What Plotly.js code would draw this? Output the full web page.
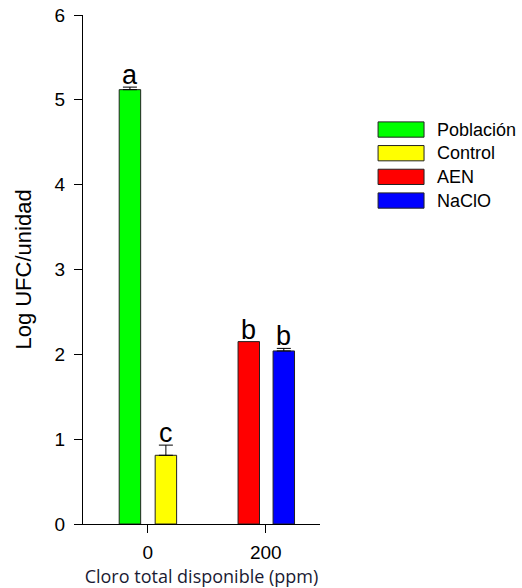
<!DOCTYPE html>
<html>
<head>
<meta charset="utf-8">
<script src="https://cdn.plot.ly/plotly-3.0.1.min.js"></script>
<style>html,body{margin:0;padding:0;background:#fff;}#chart{width:522px;height:588px;}</style>
</head>
<body>
<div id="chart"></div>
<script>
// Data
const categories = ["0", "200"];
const seriesNames = ["Población", "Control", "AEN", "NaClO"];
const seriesCategory = ["0", "0", "200", "200"];
const seriesValues = [5.12, 0.81, 2.15, 2.04];
const seriesErrors = [0.03, 0.12, 0.0, 0.03];
const seriesLetters = ["a", "c", "b", "b"];
const yTickVals = [0, 1, 2, 3, 4, 5, 6];

// Styles
const colors = ["#00ff00", "#ffff00", "#ff0000", "#0000ff"];
const offsets = [-0.243, 0.062, -0.235, 0.062];
const barWidth = 0.182;
const FONT = "Liberation Sans, Arial, sans-serif";

const traces = seriesNames.map((name, i) => ({
  type: "bar",
  name: name,
  x: [seriesCategory[i]],
  y: [seriesValues[i]],
  offset: offsets[i],
  width: barWidth,
  marker: { color: colors[i], line: { color: "#222", width: 1 } },
  error_y: {
    type: "data", symmetric: false,
    array: [seriesErrors[i]], arrayminus: [0],
    color: "#000", thickness: 1, width: 7,
    visible: seriesErrors[i] > 0
  },
  showlegend: false
}));

const annotations = seriesNames.map((name, i) => ({
  xref: "x", yref: "y",
  x: categories.indexOf(seriesCategory[i]) + offsets[i] + barWidth / 2,
  y: seriesValues[i] + seriesErrors[i],
  text: seriesLetters[i],
  showarrow: false,
  yanchor: "bottom",
  yshift: -5,
  font: { family: FONT, size: 27, color: "#000" }
}));

// custom legend with wide boxes
const legX0 = 1.245, legX1 = 1.439, legTextX = 1.487;
const legY0 = 0.775, legStep = 0.0465, legH = 0.03;
const shapes = [];
seriesNames.forEach((name, i) => {
  const yc = legY0 - i * legStep;
  shapes.push({
    type: "rect", xref: "paper", yref: "paper",
    x0: legX0, x1: legX1, y0: yc - legH / 2, y1: yc + legH / 2,
    fillcolor: colors[i], line: { color: "#222", width: 1 }
  });
  annotations.push({
    xref: "paper", yref: "paper", x: legTextX, y: yc,
    xanchor: "left", yanchor: "middle", showarrow: false,
    text: name, font: { family: FONT, size: 18, color: "#000" }
  });
});

const layout = {
  width: 522, height: 588,
  margin: { l: 83, r: 202, t: 15, b: 64 },
  paper_bgcolor: "#fff", plot_bgcolor: "#fff",
  barmode: "overlay",
  showlegend: false,
  xaxis: {
    type: "category",
    categoryarray: categories,
    range: [-0.55, 1.46],
    showline: true, linecolor: "#000", linewidth: 1,
    ticks: "outside", ticklen: 8, tickcolor: "#000",
    ticklabelstandoff: 3,
    showgrid: false, zeroline: false,
    tickfont: { family: FONT, size: 19, color: "#000" },
    title: { text: "Cloro total disponible (ppm)", standoff: 8,
      font: { family: "Open Sans, Noto Sans, sans-serif", size: 18, color: "#1a1a33" } }
  },
  yaxis: {
    range: [0, 6],
    tickvals: yTickVals,
    showline: true, linecolor: "#000", linewidth: 1,
    ticks: "outside", ticklen: 8, tickcolor: "#000",
    ticklabelstandoff: 5,
    showgrid: false, zeroline: false,
    tickfont: { family: FONT, size: 19, color: "#000" },
    title: { text: "Log UFC/unidad", standoff: 16,
      font: { family: FONT, size: 22, color: "#000" } }
  },
  shapes: shapes,
  annotations: annotations
};

Plotly.newPlot("chart", traces, layout, { staticPlot: true, displayModeBar: false });
</script>
</body>
</html>
